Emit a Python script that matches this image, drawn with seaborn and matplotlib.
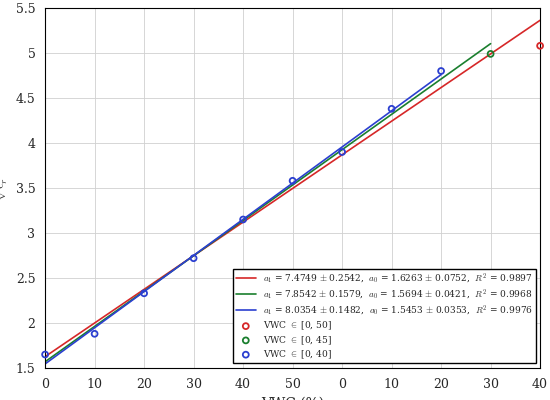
import matplotlib
matplotlib.use('Agg')
from matplotlib import pyplot as plt
import seaborn as sns
import numpy as np

sns.set_style('whitegrid')
plt.rcParams['font.family'] = ['DejaVu Serif']
plt.rcParams['mathtext.fontset'] = 'cm'

# positions on the axis (VWC in %, shown with repeating labels)
pos = [0, 10, 20, 30, 40, 50, 60, 70, 80, 90, 100]
tick_labels = ['0', '10', '20', '30', '40', '50', '0', '10', '20', '30', '40']
sqrt_eps = [1.65, 1.88, 2.33, 2.72, 3.15, 3.58, 3.90, 4.38, 4.80, 4.99, 5.08]

fits = [
    (7.4749, 1.6263, 100, '#d62728', r'$a_1$ = 7.4749 $\pm$ 0.2542,  $a_0$ = 1.6263 $\pm$ 0.0752,  $R^2$ = 0.9897'),
    (7.8542, 1.5694, 90, '#1a7f2e', r'$a_1$ = 7.8542 $\pm$ 0.1579,  $a_0$ = 1.5694 $\pm$ 0.0421,  $R^2$ = 0.9968'),
    (8.0354, 1.5453, 80, '#2b3fd0', r'$a_1$ = 8.0354 $\pm$ 0.1482,  $a_0$ = 1.5453 $\pm$ 0.0353,  $R^2$ = 0.9976'),
]

fig, ax = plt.subplots(figsize=(5.5, 4), dpi=100)
for a1, a0, end, c, lab in fits:
    x = np.array([0, end])
    sns.lineplot(x=x, y=a0 + a1 * x / 200, color=c, lw=1.2, label=lab, ax=ax)

names = [r'VWC $\in$ [0, 50]', r'VWC $\in$ [0, 45]', r'VWC $\in$ [0, 40]']
cols = ['#d62728', '#1a7f2e', '#2b3fd0']
groups = [[10], [9], list(range(9))]
for n, c, g in zip(names, cols, groups):
    sns.scatterplot(x=[pos[i] for i in g], y=[sqrt_eps[i] for i in g], s=18,
                    facecolor='none', edgecolor=c, linewidth=1.3, label=n, ax=ax,
                    zorder=5, clip_on=False)

ax.set_xlim(0, 100)
ax.set_ylim(1.5, 5.5)
ax.set_xticks(pos)
ax.set_xticklabels(tick_labels)
ax.set_yticks(np.arange(1.5, 5.6, 0.5))
ax.set_yticklabels(['1.5', '2', '2.5', '3', '3.5', '4', '4.5', '5', '5.5'])
ax.tick_params(labelsize=9)
ax.set_xlabel('VWC (%)', fontsize=10)
ax.set_ylabel(r'$\sqrt{\epsilon_r}$', fontsize=10)
for s in ax.spines.values():
    s.set_color('black'); s.set_linewidth(0.8)
ax.grid(True, color='#d0d0d0', lw=0.6)
leg = ax.legend(loc='lower right', fontsize=6.5, frameon=True, fancybox=False,
                edgecolor='black', framealpha=1, handlelength=2.2, borderpad=0.3, labelspacing=0.2)
fig.subplots_adjust(left=0.082, right=0.982, top=0.98, bottom=0.08)
fig.savefig('out.png')
